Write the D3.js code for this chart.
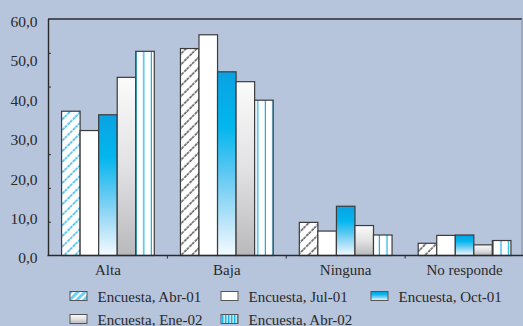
<!DOCTYPE html>
<html>
<head>
<meta charset="utf-8">
<script src="https://cdn.jsdelivr.net/npm/d3@7"></script>
<style>
  html, body { margin: 0; padding: 0; background: #b6c4dc; }
  svg { display: block; }
</style>
</head>
<body>
<svg id="chart" width="523" height="326"></svg>
<script>
// Categories and survey series (percent of respondents)
const categories = ["Alta", "Baja", "Ninguna", "No responde"];
const seriesNames = ["Encuesta, Abr-01", "Encuesta, Jul-01", "Encuesta, Oct-01", "Encuesta, Ene-02", "Encuesta, Abr-02"];
const abr01 = [36.6, 52.5, 8.4, 3.1];
const jul01 = [31.7, 56.0, 6.2, 5.1];
const oct01 = [35.7, 46.6, 12.5, 5.2];
const ene02 = [45.2, 44.1, 7.6, 2.7];
const abr02 = [51.8, 39.4, 5.2, 3.8];
const seriesValues = [abr01, jul01, oct01, ene02, abr02];
const yTickValues = [0, 10, 20, 30, 40, 50, 60];
const yMarkValues = [10, 20, 30, 50, 60];

const FONT = "Liberation Serif";
const INK = "#2a2a2a";

const svg = d3.select("#chart");
const W = 523, H = 326;
const plot = { left: 48.5, right: 524, top: 19, bottom: 255.5 };

const x = d3.scaleBand().domain(categories).range([plot.left, plot.right])
  .paddingInner(0.22).paddingOuter(0.11);
const xs = d3.scaleBand().domain(seriesNames).range([0, x.bandwidth()]).padding(0);
const y = d3.scaleLinear().domain([0, 60]).range([plot.bottom, plot.top]);
// the small marks on the value axis follow their own spacing
const yMarks = d3.scaleLinear().domain([0, 70]).range([plot.bottom, plot.top]);

function styleText(sel, size) {
  sel.attr("font-family", FONT).attr("font-size", size).attr("fill", INK)
    .style("font-family", `"${FONT}", serif`).style("font-size", size + "px");
}

// ---------- fills ----------
const defs = svg.append("defs");

function hatch(id, color, width, dash) {
  const p = defs.append("pattern").attr("id", id)
    .attr("patternUnits", "userSpaceOnUse").attr("width", 7.5).attr("height", 7.5)
    .attr("patternTransform", "rotate(45)");
  p.append("rect").attr("width", 7.5).attr("height", 7.5).attr("fill", "#ffffff");
  p.append("line").attr("x1", 1).attr("x2", 1).attr("y1", 0).attr("y2", 7.5)
    .attr("stroke", color).attr("stroke-width", width)
    .attr("stroke-dasharray", dash);
}
hatch("hatchBlue", "#3dbdf0", 1.6, "3,1");
hatch("hatchDark", "#4a4a4a", 1.4, "3,1");

// legend swatch for the hatched series: dense blue hatch
(function () {
  const p = defs.append("pattern").attr("id", "hatchLegend")
    .attr("patternUnits", "userSpaceOnUse").attr("width", 5).attr("height", 5)
    .attr("patternTransform", "rotate(45)");
  p.append("rect").attr("width", 5).attr("height", 5).attr("fill", "#ffffff");
  p.append("rect").attr("x", 0).attr("width", 3).attr("height", 5).attr("fill", "#6fd0f6");
})();

const gBlue = defs.append("linearGradient").attr("id", "gradBlue")
  .attr("x1", 0).attr("y1", 0).attr("x2", 0).attr("y2", 1);
[[0, "#0aa2e2"], [0.3, "#02b6ee"], [0.55, "#5cc8f2"], [0.8, "#b4e2f8"], [1, "#f4fbff"]]
  .forEach(([o, c]) => gBlue.append("stop").attr("offset", o).attr("stop-color", c));

const gGray = defs.append("linearGradient").attr("id", "gradGray")
  .attr("x1", 0).attr("y1", 0).attr("x2", 0).attr("y2", 1);
[[0, "#fbfbfb"], [0.5, "#e2e2e4"], [1, "#b9b9bb"]]
  .forEach(([o, c]) => gGray.append("stop").attr("offset", o).attr("stop-color", c));

const vStripes = defs.append("pattern").attr("id", "vStripes")
  .attr("patternUnits", "userSpaceOnUse").attr("width", 7.6).attr("height", 10);
vStripes.append("rect").attr("width", 7.6).attr("height", 10).attr("fill", "#ffffff");
vStripes.append("rect").attr("x", 6.4).attr("width", 2.2).attr("height", 10).attr("fill", "#10b2ee");

const vStripesLegend = defs.append("pattern").attr("id", "vStripesLegend")
  .attr("patternUnits", "userSpaceOnUse").attr("width", 3).attr("height", 10);
vStripesLegend.append("rect").attr("width", 3).attr("height", 10).attr("fill", "#bfe8fa");
vStripesLegend.append("rect").attr("x", 0).attr("width", 1.4).attr("height", 10).attr("fill", "#18b4ee");

function barFill(si, ci) {
  if (si === 0) return ci === 0 ? "url(#hatchBlue)" : "url(#hatchDark)";
  if (si === 1) return "#ffffff";
  if (si === 2) return "url(#gradBlue)";
  if (si === 3) return "url(#gradGray)";
  return "url(#vStripes)";
}

// ---------- frame ----------
svg.append("line").attr("x1", plot.left - 0.5).attr("x2", 522).attr("y1", plot.top).attr("y2", plot.top)
  .attr("stroke", "#2b2b2b").attr("stroke-width", 1.6);
svg.append("line").attr("x1", 522).attr("x2", 522).attr("y1", plot.top).attr("y2", plot.bottom)
  .attr("stroke", "#8c97ab").attr("stroke-width", 1.2);

// ---------- bars ----------
const barData = [];
seriesValues.forEach((vals, si) => vals.forEach((v, ci) => barData.push({ si, ci, v })));

svg.append("g").selectAll("rect").data(barData).join("rect")
  .attr("x", d => x(categories[d.ci]) + xs(seriesNames[d.si]))
  .attr("y", d => y(d.v))
  .attr("width", xs.bandwidth())
  .attr("height", d => y(0) - y(d.v))
  .attr("fill", d => barFill(d.si, d.ci))
  .attr("stroke", "#3c3c3c").attr("stroke-width", 1.2);

// ---------- axes ----------
svg.append("line").attr("x1", plot.left).attr("x2", plot.left).attr("y1", plot.top).attr("y2", plot.bottom)
  .attr("stroke", "#2b2b2b").attr("stroke-width", 1.4);
svg.append("line").attr("x1", plot.left - 1).attr("x2", W).attr("y1", plot.bottom).attr("y2", plot.bottom)
  .attr("stroke", "#2b2b2b").attr("stroke-width", 1.4);

// value-axis marks
const markAxis = d3.axisRight(yMarks).tickValues(yMarkValues).tickSize(2.5).tickFormat("");
svg.append("g").attr("transform", `translate(${plot.left},0)`).call(markAxis)
  .call(g => g.select(".domain").remove())
  .call(g => g.selectAll("line").attr("stroke", "#2b2b2b").attr("stroke-width", 1));

// value-axis labels
const fmt = v => d3.format(".1f")(v).replace(".", ",");
const yAxis = d3.axisLeft(y).tickValues(yTickValues).tickSize(0).tickPadding(11).tickFormat(fmt);
svg.append("g").attr("transform", `translate(${plot.left},2.4)`).call(yAxis)
  .attr("font-family", FONT)
  .call(g => g.select(".domain").remove())
  .call(g => styleText(g.selectAll("text"), 15.5));

// category separators below the baseline
const step = x.step();
svg.append("g").selectAll("line").data(categories.slice(1)).join("line")
  .attr("x1", d => x(d) - x.paddingInner() * step / 2)
  .attr("x2", d => x(d) - x.paddingInner() * step / 2)
  .attr("y1", plot.bottom).attr("y2", plot.bottom + 3)
  .attr("stroke", "#2b2b2b").attr("stroke-width", 1);

// category labels
const xAxis = d3.axisBottom(x).tickSize(0).tickPadding(9);
svg.append("g").attr("transform", `translate(0,${plot.bottom})`).call(xAxis)
  .attr("font-family", FONT)
  .call(g => g.select(".domain").remove())
  .call(g => styleText(g.selectAll("text"), 15));

// ---------- legend ----------
const legendFills = ["url(#hatchLegend)", "#ffffff", "url(#gradBlue)", "url(#gradGray)", "url(#vStripesLegend)"];
const legendCols = [70, 221, 371];
const legendRows = [291.5, 314.5];
const legend = svg.append("g");
seriesNames.forEach((name, i) => {
  const lx = legendCols[i % 3];
  const ly = legendRows[Math.floor(i / 3)];
  legend.append("rect").attr("x", lx).attr("y", ly).attr("width", 17).attr("height", 9)
    .attr("fill", legendFills[i]).attr("stroke", "#555").attr("stroke-width", 1);
  legend.append("text").attr("x", lx + 27.5).attr("y", ly + 10).text(name)
    .call(t => styleText(t, 15));
});
</script>
</body>
</html>
